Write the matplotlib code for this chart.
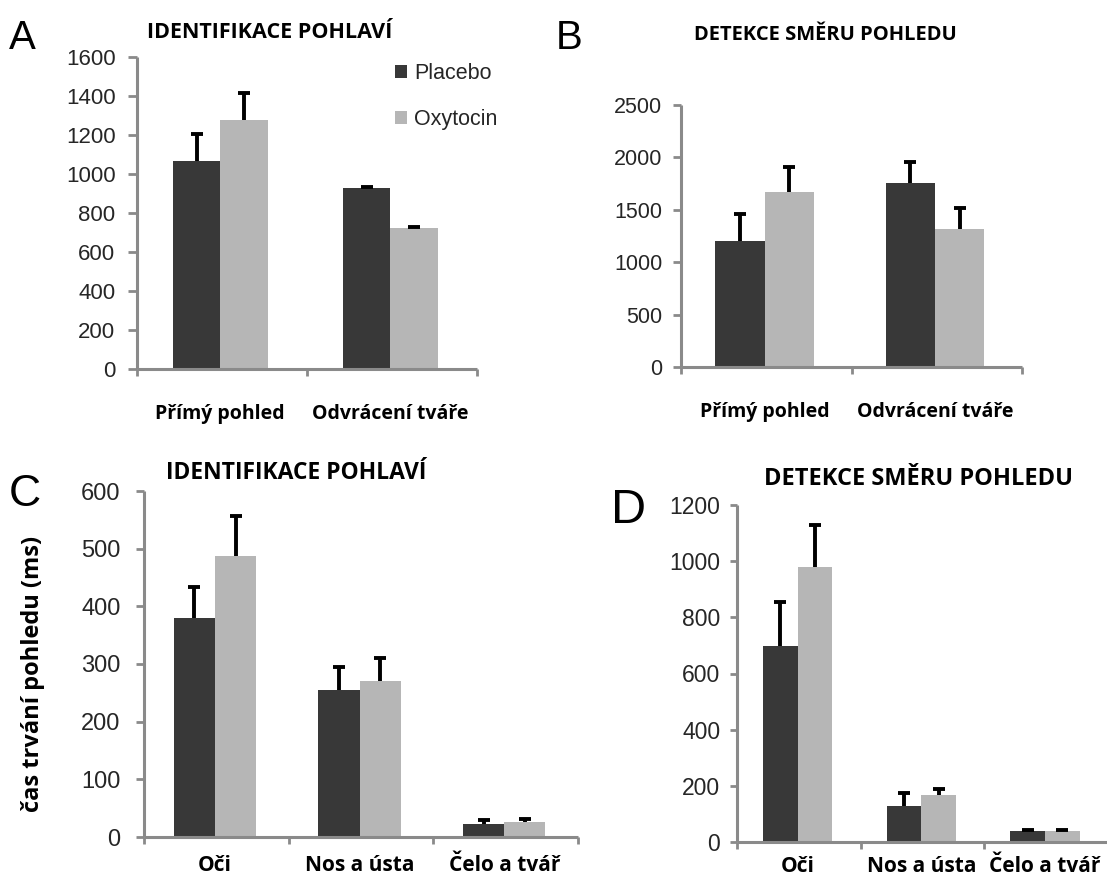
import matplotlib
matplotlib.use("Agg")
import matplotlib.pyplot as plt
from matplotlib.patches import Patch
import numpy as np

W, H = 1107, 884

# ---------------- data ----------------
series_names = ["Placebo", "Oxytocin"]

cats_AB = ["Přímý pohled", "Odvrácení tváře"]
cats_CD = ["Oči", "Nos a ústa", "Čelo a tvář"]

A_placebo = [1067, 928]
A_placebo_err = [138, 3]
A_oxytocin = [1277, 723]
A_oxytocin_err = [138, 3]

B_placebo = [1207, 1759]
B_placebo_err = [257, 199]
B_oxytocin = [1673, 1321]
B_oxytocin_err = [238, 200]

C_placebo = [380, 255, 23]
C_placebo_err = [53, 40, 7]
C_oxytocin = [487, 270, 26]
C_oxytocin_err = [70, 40, 5]

D_placebo = [698, 128, 39]
D_placebo_err = [156, 46, 4]
D_oxytocin = [979, 167, 39]
D_oxytocin_err = [149, 22, 4]

titles = ["IDENTIFIKACE POHLAVÍ", "DETEKCE SMĚRU POHLEDU",
          "IDENTIFIKACE POHLAVÍ", "DETEKCE SMĚRU POHLEDU"]
panel_letters = ["A", "B", "C", "D"]
ylabel_C = "čas trvání pohledu (ms)"

# ---------------- style ----------------
DARK = "#383838"
LIGHT = "#b6b6b6"
AXIS = "#8a8a8a"
TXT = "#262626"
NUM_FONT = "Liberation Sans"
BOLD_FONT = "Open Sans"

fig = plt.figure(figsize=(W / 100, H / 100), dpi=100)
fig.patch.set_facecolor("white")


def axes_px(left, right, top, bottom):
    return fig.add_axes([left / W, 1 - bottom / H, (right - left) / W, (bottom - top) / H])


def panel(ax, cats, p, pe, o, oe, ymax, ystep, xmax, width, tick_fs, cat_fs, cat_pad,
          ylen=5, ypad=7):
    n = len(cats)
    x = np.arange(n) + 0.49
    ekw = dict(ecolor="black", elinewidth=2.8, capsize=4.2, capthick=2.8)
    for xs, vals, errs, col in ((x - width / 2, p, pe, DARK), (x + width / 2, o, oe, LIGHT)):
        bars = ax.bar(xs, vals, width, color=col, yerr=[np.zeros(n), errs],
                      error_kw=ekw, zorder=2)
        caplines = bars.errorbar.lines[1]
        if len(caplines) >= 2:
            caplines[0].set_visible(False)   # one-sided error bars: no lower cap
    ax.set_xlim(0, xmax)
    ax.set_ylim(0, ymax)
    ticks = np.arange(0, ymax + 1, ystep)
    ax.set_yticks(ticks)
    ax.set_yticklabels([str(int(v)) for v in ticks],
                       fontfamily=NUM_FONT, fontsize=tick_fs, color=TXT)
    ax.set_xticks(x)
    ax.set_xticklabels(cats, fontfamily=BOLD_FONT, fontweight="bold", fontsize=cat_fs, color="black")
    ax.set_xticks(np.arange(0, int(np.floor(xmax)) + 1), minor=True)
    ax.tick_params(axis="x", which="major", length=0, pad=cat_pad)
    ax.tick_params(axis="x", which="minor", length=5, width=2, color=AXIS, direction="out")
    ax.tick_params(axis="y", length=ylen, width=2, color=AXIS, direction="out", pad=ypad)
    for s in ["top", "right"]:
        ax.spines[s].set_visible(False)
    for s in ["left", "bottom"]:
        ax.spines[s].set_color(AXIS)
        ax.spines[s].set_linewidth(2.2)
        ax.spines[s].set_capstyle("butt")
    ax.set_facecolor("none")


axA = axes_px(137, 477, 57, 369)
panel(axA, cats_AB, A_placebo, A_placebo_err, A_oxytocin, A_oxytocin_err,
      1600, 200, 2.0, 0.28, 16, 14, 25, ylen=6.5, ypad=9)

axB = axes_px(681, 1022, 105, 367)
panel(axB, cats_AB, B_placebo, B_placebo_err, B_oxytocin, B_oxytocin_err,
      2500, 500, 2.0, 0.29, 15.5, 14, 25, ylen=5.5, ypad=8)

axC = axes_px(144, 578, 491, 837)
panel(axC, cats_CD, C_placebo, C_placebo_err, C_oxytocin, C_oxytocin_err,
      600, 100, 3.0, 0.285, 17, 15, 13, ylen=6, ypad=11)

axD = axes_px(737, 1107, 505, 842)
panel(axD, cats_CD, D_placebo, D_placebo_err, D_oxytocin, D_oxytocin_err,
      1200, 200, 2.99, 0.28, 16.5, 15, 10, ylen=5, ypad=7)

# legend in panel A
handles = [Patch(facecolor=DARK, edgecolor="none"), Patch(facecolor=LIGHT, edgecolor="none")]
axA.legend(handles, series_names, loc="upper left", bbox_to_anchor=(395 / W, 1 - 63 / H),
           bbox_transform=fig.transFigure, frameon=False, borderaxespad=0, borderpad=0,
           handlelength=0.55, handleheight=0.55, handletextpad=0.35, labelspacing=1.18,
           prop=dict(family=NUM_FONT, size=15.5))
for t in axA.get_legend().get_texts():
    t.set_color(TXT)

# titles
title_specs = [(270, 33, 15.5), (825, 35, 14.5), (296, 473, 16.5), (919, 479, 17)]
for (tx, ty, fs), t in zip(title_specs, titles):
    fig.text(tx / W, 1 - ty / H, t, ha="center", va="center", fontfamily=BOLD_FONT,
             fontweight="bold", fontsize=fs, color="black")

# panel letters (baseline positions)
letter_specs = [(9, 49, 29), (556, 49, 29), (9, 506, 32), (611, 523, 35)]
for (lx, ly, fs), L in zip(letter_specs, panel_letters):
    fig.text(lx / W, 1 - ly / H, L, ha="left", va="baseline", fontfamily=NUM_FONT,
             fontsize=fs, color="black")

# y label of panel C
fig.text(33 / W, 1 - 674 / H, ylabel_C, rotation=90, ha="center", va="center",
         fontfamily=BOLD_FONT, fontweight="bold", fontsize=17, color="black")

fig.savefig("out.png", dpi=100, facecolor="white")
